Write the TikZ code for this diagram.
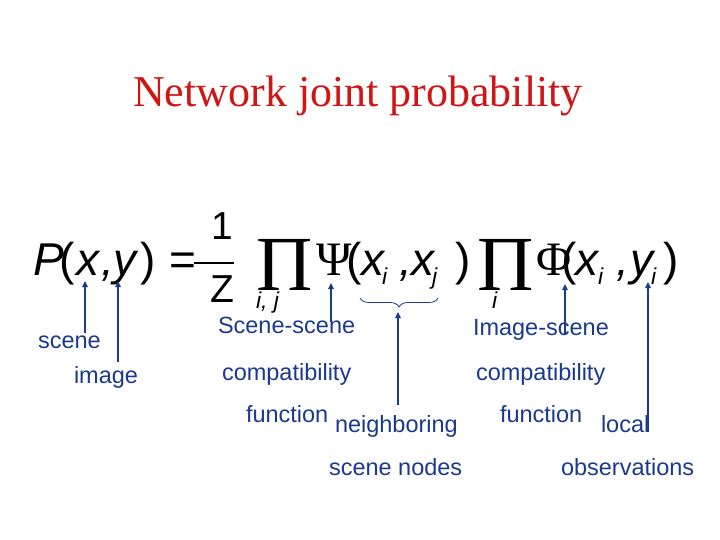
\documentclass[tikz,border=0pt]{standalone}
\usepackage{fontspec}
\setmainfont{Liberation Serif}
\newfontfamily\ar{Liberation Sans}
\usetikzlibrary{arrows.meta,decorations.pathreplacing}
\definecolor{navy}{HTML}{1B3A8E}
\definecolor{tred}{HTML}{D01515}
\begin{document}
\begin{tikzpicture}[x=1pt,y=-1pt,
  every node/.style={inner sep=0pt,outer sep=0pt,anchor=base west},
  lbl/.style={text=navy,font=\ar\fontsize{23.5}{28}\selectfont},
  mth/.style={font=\ar\itshape\fontsize{46}{50}\selectfont},
  upr/.style={font=\ar\fontsize{46}{50}\selectfont},
  frac/.style={font=\ar\fontsize{39}{44}\selectfont},
  sub/.style={font=\ar\itshape\fontsize{23}{26}\selectfont},
  grk/.style={font=\fontsize{48}{52}\selectfont},
  prd/.style={font=\fontsize{78}{80}\selectfont},
  arr/.style={draw=navy,line width=1.5pt,-{Triangle[length=6pt,width=5.5pt]}}]
\useasboundingbox (0,0) rectangle (720,540);
\fill[white] (0,0) rectangle (720,540);
% title
\node[anchor=base,text=tred,font=\fontsize{44}{50}\selectfont] (title) at (358,107) {Network joint probability};
% formula
\node[mth] (P) at (33,275) {P};
\node[upr] (lp) at (59,275) {(};
\node[mth] (x) at (76,275) {x};
\node[mth] (c1) at (101,275) {,};
\node[mth] (y) at (113,275) {y};
\node[upr] (rp) at (140,275) {)};
\node[upr] (eq) at (169,275) {=};
\coordinate (fb1) at (194,263);
\coordinate (fb2) at (234,263);
\draw[line width=2.6pt] (fb1) -- (fb2);
\node[frac] (one) at (211,240) {1};
\node[frac] (Z) at (210,302) {Z};
\node[prd] (prod1) at (256,290) {Π};
\node[sub] (ij) at (256,308) {i, j};
\node[grk] (Psi) at (316,275) {Ψ};
\node[upr] (lp2) at (346,275) {(};
\node[mth] (xi) at (361,275) {x};
\node[sub] (si) at (382,284) {i};
\node[mth] (c2) at (399,275) {,};
\node[mth] (xj) at (411,275) {x};
\node[sub] (sj) at (432,284) {j};
\node[upr] (rp2) at (455,275) {)};
\node[prd] (prod2) at (477,290) {Π};
\node[sub] (i2) at (492,308) {i};
\node[grk] (Phi) at (536,275) {Φ};
\node[upr] (lp3) at (561,275) {(};
\node[mth] (xi2) at (575,275) {x};
\node[sub] (si2) at (598,284) {i};
\node[mth] (c3) at (616,275) {,};
\node[mth] (yi) at (630,275) {y};
\node[sub] (si3) at (651,284) {i};
\node[upr] (rp3) at (663,275) {)};
% brace
\coordinate (b1) at (360,298);
\coordinate (b2) at (438,298);
\draw[navy,line width=0.8pt,decorate,decoration={brace,mirror,amplitude=9pt}] (b1) -- (b2);
% labels
\node[lbl] (scene) at (38,348) {scene};
\node[lbl] (image) at (74,383) {image};
\node[lbl] (ss) at (218,333) {Scene-scene};
\node[lbl] (comp1) at (222,380) {compatibility};
\node[lbl] (fun1) at (246,422) {function};
\node[lbl] (neigh) at (335,432) {neighboring};
\node[lbl] (sn) at (329,475) {scene nodes};
\node[lbl] (is) at (473,335) {Image-scene};
\node[lbl] (comp2) at (476,380) {compatibility};
\node[lbl] (fun2) at (500,422) {function};
\node[lbl] (local) at (601,432) {local};
\node[lbl] (obs) at (561,475) {observations};
% arrows
\coordinate (a1s) at (85,333); \coordinate (a1e) at (85,281);
\coordinate (a2s) at (118,362); \coordinate (a2e) at (118,281);
\coordinate (a3s) at (331,322); \coordinate (a3e) at (331,283);
\coordinate (a4s) at (398,405); \coordinate (a4e) at (398,312);
\coordinate (a5s) at (565,335); \coordinate (a5e) at (565,284);
\coordinate (a6s) at (648,432); \coordinate (a6e) at (648,282);
\draw[arr] (a1s) -- (a1e);
\draw[arr] (a2s) -- (a2e);
\draw[arr] (a3s) -- (a3e);
\draw[arr] (a4s) -- (a4e);
\draw[arr] (a5s) -- (a5e);
\draw[arr] (a6s) -- (a6e);
\end{tikzpicture}
\end{document}
